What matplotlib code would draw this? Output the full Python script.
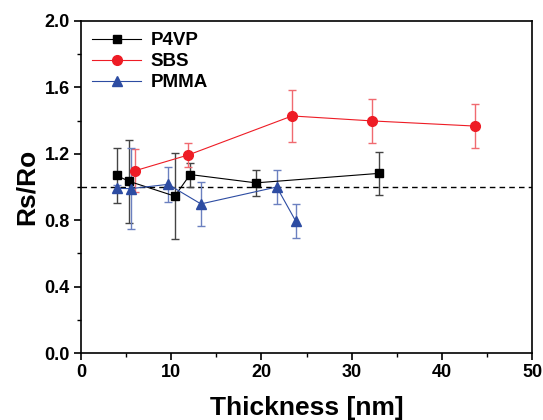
import matplotlib
matplotlib.use("Agg")
import matplotlib.pyplot as plt
from matplotlib.ticker import MultipleLocator

plt.rcParams['font.family'] = ['Liberation Sans', 'DejaVu Sans']
plt.rcParams['font.weight'] = 'bold'

p4vp_x = [3.95, 5.3, 10.4, 12.1, 19.4, 33.0]
p4vp_y = [1.07, 1.035, 0.945, 1.075, 1.025, 1.082]
p4vp_e = [0.165, 0.25, 0.26, 0.072, 0.078, 0.13]

sbs_x = [6.0, 11.9, 23.4, 32.3, 43.7]
sbs_y = [1.098, 1.193, 1.428, 1.398, 1.367]
sbs_e = [0.13, 0.07, 0.155, 0.135, 0.135]

pmma_x = [4.0, 5.5, 9.65, 13.3, 21.7, 23.8]
pmma_y = [0.992, 0.99, 1.016, 0.898, 1.0, 0.795]
pmma_e = [0.02, 0.245, 0.105, 0.135, 0.1, 0.105]

fig = plt.figure(figsize=(5.43, 4.2), dpi=100)
ax = fig.add_axes([0.149, 0.1595, 0.831, 0.7905])

ax.axhline(1.0, color='black', ls=(0, (4, 3)), lw=1.0, zorder=1)

def series(x, y, e, color, ecolor, marker, ms, label):
    ax.errorbar(x, y, yerr=e, color=color, ecolor=ecolor, marker=marker, ms=ms,
                lw=0.8, elinewidth=1.0, capsize=3, capthick=1.0, label=label,
                markeredgecolor=color, zorder=3)

series(p4vp_x, p4vp_y, p4vp_e, 'black', '#444444', 's', 6, 'P4VP')
series(sbs_x, sbs_y, sbs_e, '#ee1c25', '#f06a70', 'o', 7, 'SBS')
series(pmma_x, pmma_y, pmma_e, '#2d4ca2', '#6b80c0', '^', 7, 'PMMA')

ax.set_xlim(0, 50)
ax.set_ylim(0, 2.0)
ax.xaxis.set_major_locator(MultipleLocator(10))
ax.xaxis.set_minor_locator(MultipleLocator(5))
ax.yaxis.set_major_locator(MultipleLocator(0.4))
ax.yaxis.set_minor_locator(MultipleLocator(0.2))
ax.yaxis.set_major_formatter(matplotlib.ticker.FormatStrFormatter('%.1f'))
ax.tick_params(which='major', direction='out', length=5, width=1.2, labelsize=13, pad=3)
ax.tick_params(which='minor', direction='out', length=3, width=1.0)
for s in ax.spines.values():
    s.set_linewidth(1.2)
for lab in ax.get_xticklabels() + ax.get_yticklabels():
    lab.set_fontweight('bold')

ax.set_xlabel('Thickness [nm]', fontsize=19, fontweight='bold', labelpad=11)
ax.set_ylabel('Rs/Ro', fontsize=19, fontweight='bold', labelpad=4)

from matplotlib.container import ErrorbarContainer
handles, labels = ax.get_legend_handles_labels()
handles = [h[0] if isinstance(h, ErrorbarContainer) else h for h in handles]
leg = ax.legend(handles, labels, loc='upper left', frameon=False, fontsize=13.5,
                handlelength=2.6, handletextpad=0.5, labelspacing=0.2,
                borderaxespad=0.2)
for t in leg.get_texts():
    t.set_fontweight('bold')

fig.savefig('out.png', dpi=100)
